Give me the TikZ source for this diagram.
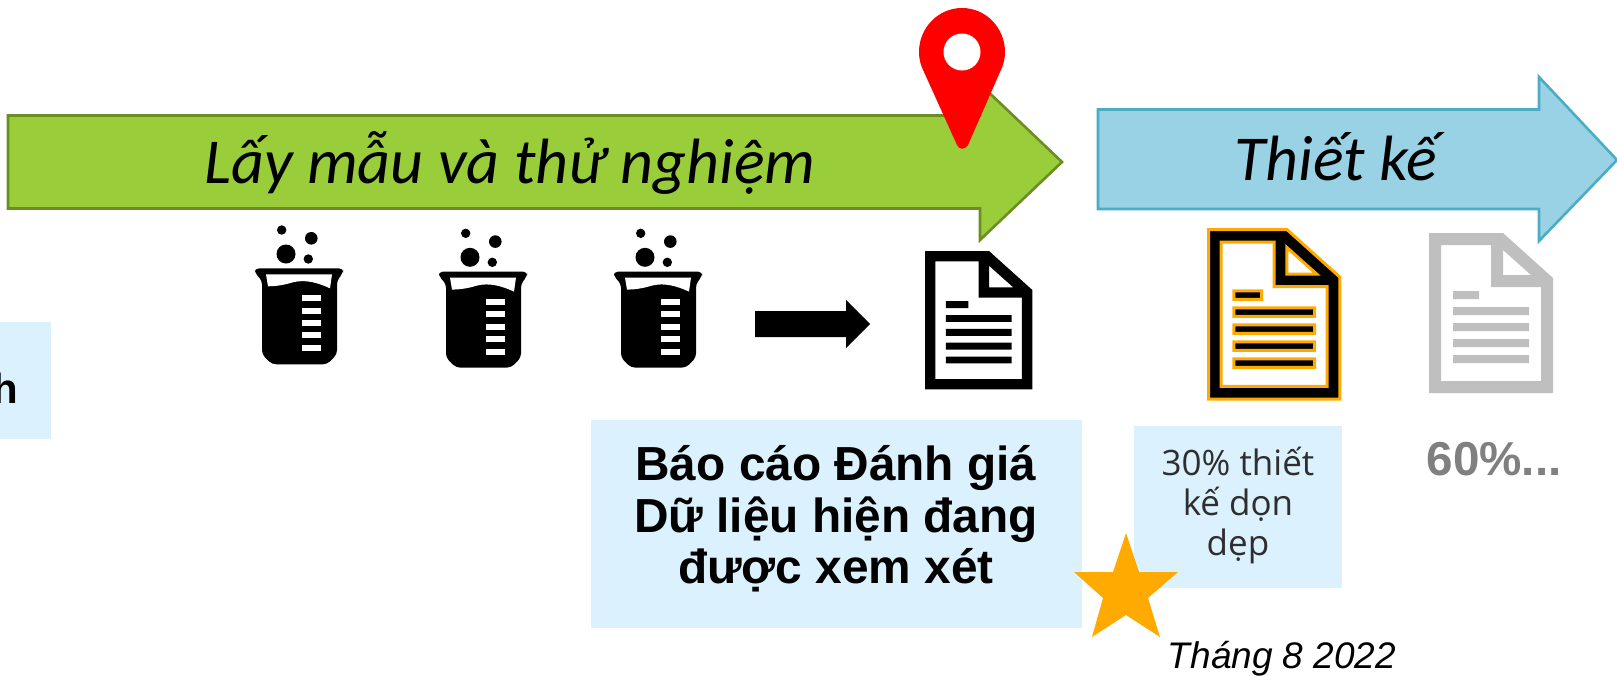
\documentclass[tikz,border=0pt]{standalone}
\usepackage{fontspec}
\setmainfont{Liberation Sans}
\newfontfamily\calib{Carlito}
\newfontfamily\robo{Open Sans}
\definecolor{boxblue}{HTML}{DBF1FD}
\definecolor{agreen}{HTML}{9ACD3A}
\definecolor{agreenline}{HTML}{6B8E23}
\definecolor{ablue}{HTML}{99D2E5}
\definecolor{ablueline}{HTML}{4BACC6}
\definecolor{amber}{HTML}{FFAA00}
\definecolor{docgrey}{HTML}{BFBFBF}
\newcommand{\beakerat}[2]{%
 \begin{scope}[shift={(#1,#2)}]
  \fill[black,rounded corners=2pt] (0,0) -- (88,0) -- (88,5) -- (82,12) -- (82,86) -- (72,96) -- (17,96) -- (7,86) -- (7,12) -- (0,5) -- cycle;
  \fill[white] (11,6) -- (77,6) -- (75,20) .. controls (62,14) and (50,11) .. (38,14) .. controls (28,17) and (20,18) .. (13,18) -- cycle;
  \foreach \yy in {27,39.5,52,64,77} \fill[white] (47,\yy) rectangle (66,\yy+6);
  \fill[black] (31,-14.3) circle (9.5) (26.7,-38.3) circle (4.7) (56.3,-30) circle (6.3) (53.3,-9.3) circle (4.7);
 \end{scope}}
\newcommand{\docpath}{(0,0) -- (74,0) -- (124,45) -- (124,160) -- (0,160) -- cycle
  (12,12) -- (12,148) -- (112,148) -- (112,54) -- (62,54) -- (62,12) -- cycle
  (74,17) -- (74,42) -- (102,42) -- cycle
  (24,58) rectangle (50,66)
  (24,74) rectangle (100,82)
  (24,90) rectangle (100,98)
  (24,106) rectangle (100,114)
  (24,122) rectangle (100,130)}
\begin{document}
\begin{tikzpicture}[x=0.5pt,y=-0.5pt,
  bigarrow/.style={line width=1.3pt,line join=miter},
  infobox/.style={fill=boxblue,draw=none},
  inkdoc/.style={even odd rule,fill=#1}]
\useasboundingbox (0,0) rectangle (1617,675);
% text boxes
\fill[infobox] (0,322) rectangle (51,439);
\fill[infobox] (591,420) rectangle (1082,628);
\fill[infobox] (1134,426) rectangle (1342,588);
% big arrows
\draw[bigarrow,fill=agreen,draw=agreenline] (8,115.5) -- (980,115.5) -- (980,84) -- (1062,162) -- (980,240) -- (980,208.5) -- (8,208.5) -- cycle;
\draw[bigarrow,fill=ablue,draw=ablueline] (1098,109.5) -- (1539,109.5) -- (1539,77) -- (1617,160) -- (1539,241) -- (1539,209) -- (1098,209) -- cycle;
\node[anchor=base,font=\calib\itshape\fontsize{32}{38}\selectfont,inner sep=0pt] (t1) at (510,183) {Lấy mẫu và thử nghiệm};
\node[anchor=base,font=\calib\itshape\fontsize{32}{38}\selectfont,inner sep=0pt] (t2) at (1336,180) {Thiết kế};
% pin
\fill[red] (924,72) .. controls (921,66) and (919,60) .. (919,52) .. controls (919,28) and (938,8) .. (962,8) .. controls (986,8) and (1005,28) .. (1005,52) .. controls (1005,60) and (1003,66) .. (1000,72) -- (968,145) .. controls (965,150) and (959,150) .. (957,145) -- cycle;
\fill[white] (962,52) circle (18.5);
% beakers
\beakerat{255}{268.3}
\beakerat{439}{271.6}
\beakerat{614}{271.6}
% thick arrow
\fill[black] (755,311) -- (846,311) -- (846,300) -- (870,324) -- (846,348) -- (846,337) -- (755,337) -- cycle;
% documents
\begin{scope}[shift={(925,251)},scale=0.865]
 \fill[inkdoc=black] \docpath;
\end{scope}
\begin{scope}[shift={(1208.5,229.5)},scale=1.06]
 \draw[inkdoc=black,draw=amber,line width=1.5pt] \docpath;
\end{scope}
\begin{scope}[shift={(1429,233)}]
 \fill[inkdoc=docgrey] \docpath;
\end{scope}
% star
\fill[amber] (1126,533) -- (1139,572) -- (1178,572) -- (1148,598) -- (1160,637) -- (1126,615) -- (1092,637) -- (1103,598) -- (1074,572) -- (1113,572) -- cycle;
% labels
\node[anchor=base east,font=\bfseries\fontsize{21}{25}\selectfont,inner sep=0pt] (t3) at (18.5,403) {h};
\node[align=center,font=\bfseries\fontsize{23.9}{25.75}\selectfont,inner sep=0pt] (t4) at (836,519) {Báo cáo Đánh giá\\Dữ liệu hiện đang\\được xem xét};
\node[align=center,text=black!82,font=\robo\fontsize{17.5}{20}\selectfont,inner sep=0pt] (t5) at (1238,505) {30\% thiết\\kế dọn\\dẹp};
\node[anchor=base,text=black!50,font=\bfseries\fontsize{23.8}{28}\selectfont,inner sep=0pt] (t6) at (1494,475) {60\%...};
\node[anchor=base,font=\itshape\fontsize{18.5}{22}\selectfont,inner sep=0pt] (t7) at (1282,668) {Tháng 8 2022};
\end{tikzpicture}
\end{document}
